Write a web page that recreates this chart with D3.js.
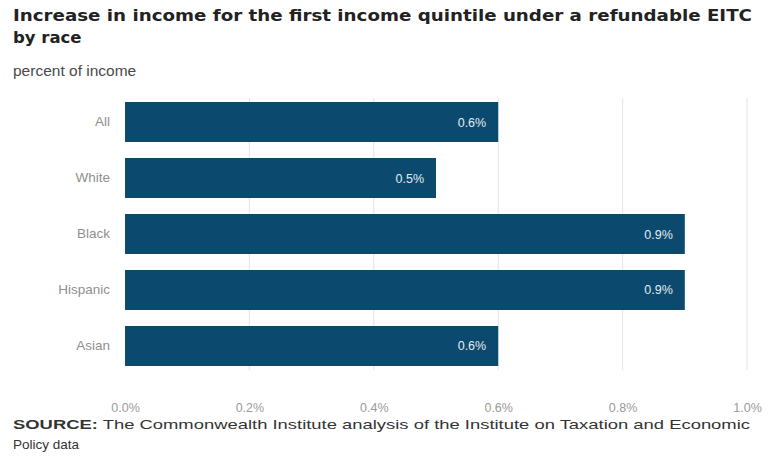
<!DOCTYPE html>
<html>
<head>
<meta charset="utf-8">
<script src="https://cdn.jsdelivr.net/npm/d3@7"></script>
<style>
  html, body { margin: 0; padding: 0; background: #fff; }
  svg { display: block; font-family: "Liberation Sans", Arial, sans-serif; }
</style>
</head>
<body>
<svg id="chart" width="769" height="458"></svg>
<script>
// Chart data
const categories = ["All", "White", "Black", "Hispanic", "Asian"];
const values = [0.6, 0.5, 0.9, 0.9, 0.6];
const tickValues = [0, 0.2, 0.4, 0.6, 0.8, 1.0];
const titleLines = ["Increase in income for the first income quintile under a refundable EITC", "by race"];
const subtitle = "percent of income";
const sourceLines = [["SOURCE:", " The Commonwealth Institute analysis of the Institute on Taxation and Economic"], ["", "Policy data"]];

const svg = d3.select("#chart");
const W = 769;
const plotLeft = 125, plotRight = 747;

const x = d3.scaleLinear().domain([0, 1.0]).range([plotLeft, plotRight]);
const y = d3.scaleBand().domain(categories).range([96.4, 371.6])
  .paddingInner(0.2857).paddingOuter(0.1);

// Title block
svg.selectAll("text.title").data(titleLines).join("text")
  .attr("class", "title")
  .attr("x", 13).attr("y", (d, i) => 21 + i * 22)
  .attr("font-family", "\"DejaVu Sans\", Verdana, sans-serif")
  .attr("font-size", 16.5).attr("font-weight", "bold").attr("fill", "#222")
  .attr("textLength", (d, i) => i === 0 ? 739 : null)
  .attr("lengthAdjust", "spacingAndGlyphs")
  .text(d => d);

svg.append("text").attr("x", 13).attr("y", 76)
  .attr("font-size", 15.5).attr("fill", "#4a4a4a").text(subtitle);

// Vertical grid lines
svg.append("g").selectAll("line").data(tickValues.slice(1)).join("line")
  .attr("x1", d => x(d)).attr("x2", d => x(d))
  .attr("y1", 98).attr("y2", 370)
  .attr("stroke", "#e4e4e4").attr("stroke-width", 1);

// Bars
const rows = categories.map((c, i) => ({ c, v: values[i] }));
svg.append("g").selectAll("rect").data(rows).join("rect")
  .attr("x", x(0)).attr("y", d => y(d.c))
  .attr("width", d => x(d.v) - x(0)).attr("height", y.bandwidth())
  .attr("fill", "#0b4a6e");

// Value labels inside bar ends
svg.append("g").selectAll("text").data(rows).join("text")
  .attr("x", d => x(d.v) - 12).attr("y", d => y(d.c) + y.bandwidth() / 2 + 4.5)
  .attr("text-anchor", "end").attr("font-size", 12.5).attr("fill", "#e3ebf1")
  .text(d => d3.format(".1f")(d.v) + "%");

// Category axis
const yAxis = svg.append("g").attr("transform", `translate(${x(0) - 15},0)`)
  .call(d3.axisLeft(y).tickSize(0).tickPadding(0));
yAxis.select(".domain").remove();
yAxis.selectAll("text").attr("font-size", 13.5).attr("fill", "#8f8f8f")
  .attr("font-family", "\"Liberation Sans\", Arial, sans-serif");

// Value axis
const xAxis = svg.append("g").attr("transform", "translate(0,403)")
  .call(d3.axisBottom(x).tickValues(tickValues).tickSize(0).tickPadding(0)
    .tickFormat(d => d3.format(".1f")(d) + "%"));
xAxis.select(".domain").remove();
xAxis.selectAll("text").attr("font-size", 12.5).attr("fill", "#9a9a9a")
  .attr("font-family", "\"Liberation Sans\", Arial, sans-serif");

// Source note
const src = svg.selectAll("text.source").data(sourceLines).join("text")
  .attr("class", "source")
  .attr("x", 13).attr("y", (d, i) => 429 + i * 20)
  .attr("font-size", 13.5).attr("fill", "#333")
  .attr("textLength", (d, i) => i === 0 ? 737 : null)
  .attr("lengthAdjust", "spacingAndGlyphs");
src.append("tspan").attr("font-weight", "bold").text(d => d[0]);
src.append("tspan").text(d => d[1]);
</script>
</body>
</html>
